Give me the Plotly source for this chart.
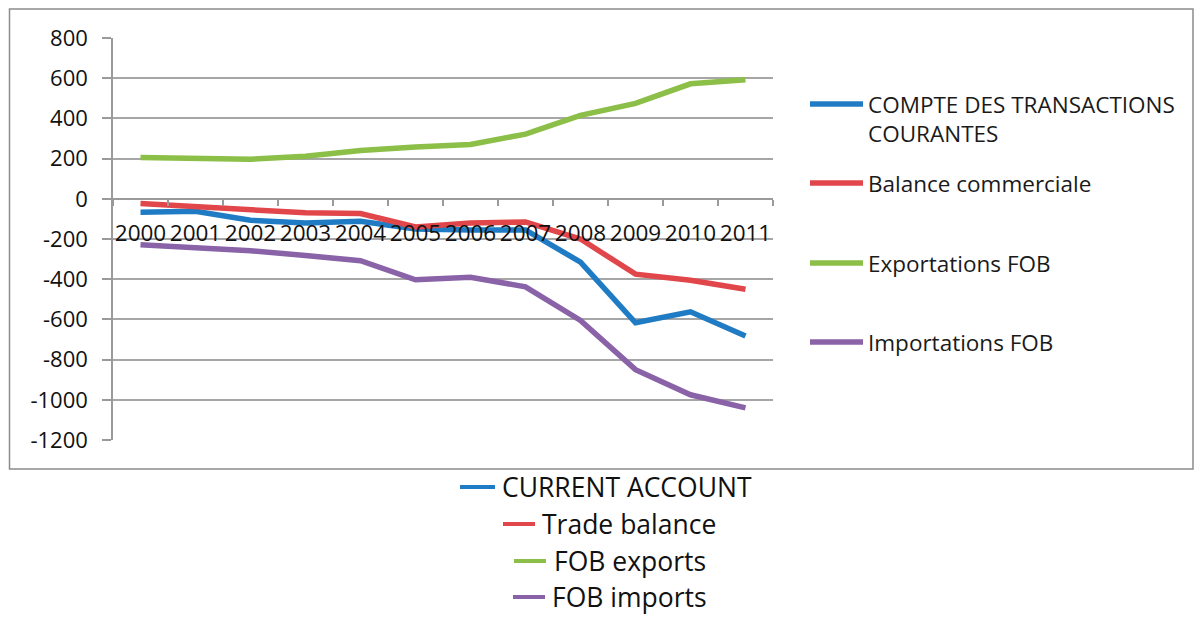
import plotly.graph_objects as go

years = ["2000", "2001", "2002", "2003", "2004", "2005", "2006", "2007", "2008", "2009", "2010", "2011"]
current_account = [-67, -62, -107, -120, -112, -150, -155, -155, -315, -617, -562, -683]
trade_balance = [-23, -40, -57, -70, -73, -140, -120, -115, -200, -375, -405, -450]
fob_exports = [205, 202, 197, 212, 240, 258, 270, 322, 415, 475, 572, 592]
fob_imports = [-228, -242, -258, -282, -308, -403, -390, -438, -605, -850, -975, -1040]

names_fr = ["COMPTE DES TRANSACTIONS<br>COURANTES", "Balance commerciale", "Exportations FOB", "Importations FOB"]
names_en = ["CURRENT ACCOUNT", "Trade balance", "FOB exports", "FOB imports"]
yticks = [800, 600, 400, 200, 0, -200, -400, -600, -800, -1000, -1200]

colors = ["#1f7bc3", "#e0464a", "#8cbf47", "#8a62a8"]
series = [current_account, trade_balance, fob_exports, fob_imports]

OFF = 8  # page body margin
W, H = 1204 - OFF, 618 - OFF
# plot area in screen pixels
SL, SR, ST, SB = 113, 773, 38, 440
PL, PR, PT, PB = SL - OFF, SR - OFF, ST - OFF, SB - OFF


def px(x):
    return (x - SL) / (SR - SL)


def py(y):
    return (SB - y) / (SB - ST)


fig = go.Figure()
for vals, c, n in zip(series, colors, names_en):
    fig.add_trace(go.Scatter(x=years, y=vals, mode="lines", name=n,
                             line=dict(color=c, width=5.5), showlegend=False,
                             hoverinfo="x+y+name"))

shapes = []
annotations = []

# outer chart border
shapes.append(dict(type="rect", xref="paper", yref="paper",
                   x0=px(9.5), x1=px(1193), y0=py(469), y1=py(9),
                   line=dict(color="#8c8c8c", width=1.5), layer="below"))

# right legend (French)
leg_y = [104, 183, 263, 342]
for n, c, yy in zip(names_fr, colors, leg_y):
    shapes.append(dict(type="line", xref="paper", yref="paper",
                       x0=px(810), x1=px(863), y0=py(yy), y1=py(yy),
                       line=dict(color=c, width=5.5)))
    annotations.append(dict(xref="paper", yref="paper", x=px(866), y=py(yy - 17),
                            text=n, showarrow=False, xanchor="left", yanchor="top",
                            align="left",
                            font=dict(family="Open Sans", size=22.5, color="#1a1a1a")))

# bottom legend (English)
rows = [(460, 495, 487, 503), (503, 535, 524, 543), (514, 546, 561, 555), (513, 545, 597, 553)]
for n, c, (lx0, lx1, yy, tx) in zip(names_en, colors, rows):
    shapes.append(dict(type="line", xref="paper", yref="paper",
                       x0=px(lx0), x1=px(lx1), y0=py(yy), y1=py(yy),
                       line=dict(color=c, width=4)))
    annotations.append(dict(xref="paper", yref="paper", x=px(tx - 2), y=py(yy),
                            text=n, showarrow=False, xanchor="left", yanchor="middle",
                            borderpad=0,
                            font=dict(family="Open Sans", size=26.5, color="#111111")))

fig.update_layout(
    width=W, height=H,
    margin=dict(l=PL, r=W - PR, t=PT, b=H - PB, pad=0),
    paper_bgcolor="white", plot_bgcolor="white",
    shapes=shapes, annotations=annotations,
    showlegend=False,
    xaxis=dict(type="category", range=[-0.5, 11.5], anchor="free",
               position=1200 / 2000, showgrid=False, zeroline=False,
               showline=True, linecolor="#9a9a9a", linewidth=1.5,
               ticks="outside", tickson="boundaries", ticklen=6,
               tickcolor="#9a9a9a", tickwidth=1.5, tickangle=0,
               ticklabelstandoff=14,
               tickfont=dict(family="Open Sans", size=22.5, color="#111111")),
    yaxis=dict(range=[-1200, 800], tickvals=yticks,
               ticktext=[str(v) for v in yticks],
               showgrid=True, gridcolor="#a6a6a6", gridwidth=1.5,
               zeroline=False, showline=True, linecolor="#9a9a9a", linewidth=1.5,
               ticks="outside", ticklen=9, tickcolor="#9a9a9a", tickwidth=1.5,
               ticklabelstandoff=10,
               tickfont=dict(family="Open Sans", size=22, color="#111111")),
)

fig.write_html("out.html")
